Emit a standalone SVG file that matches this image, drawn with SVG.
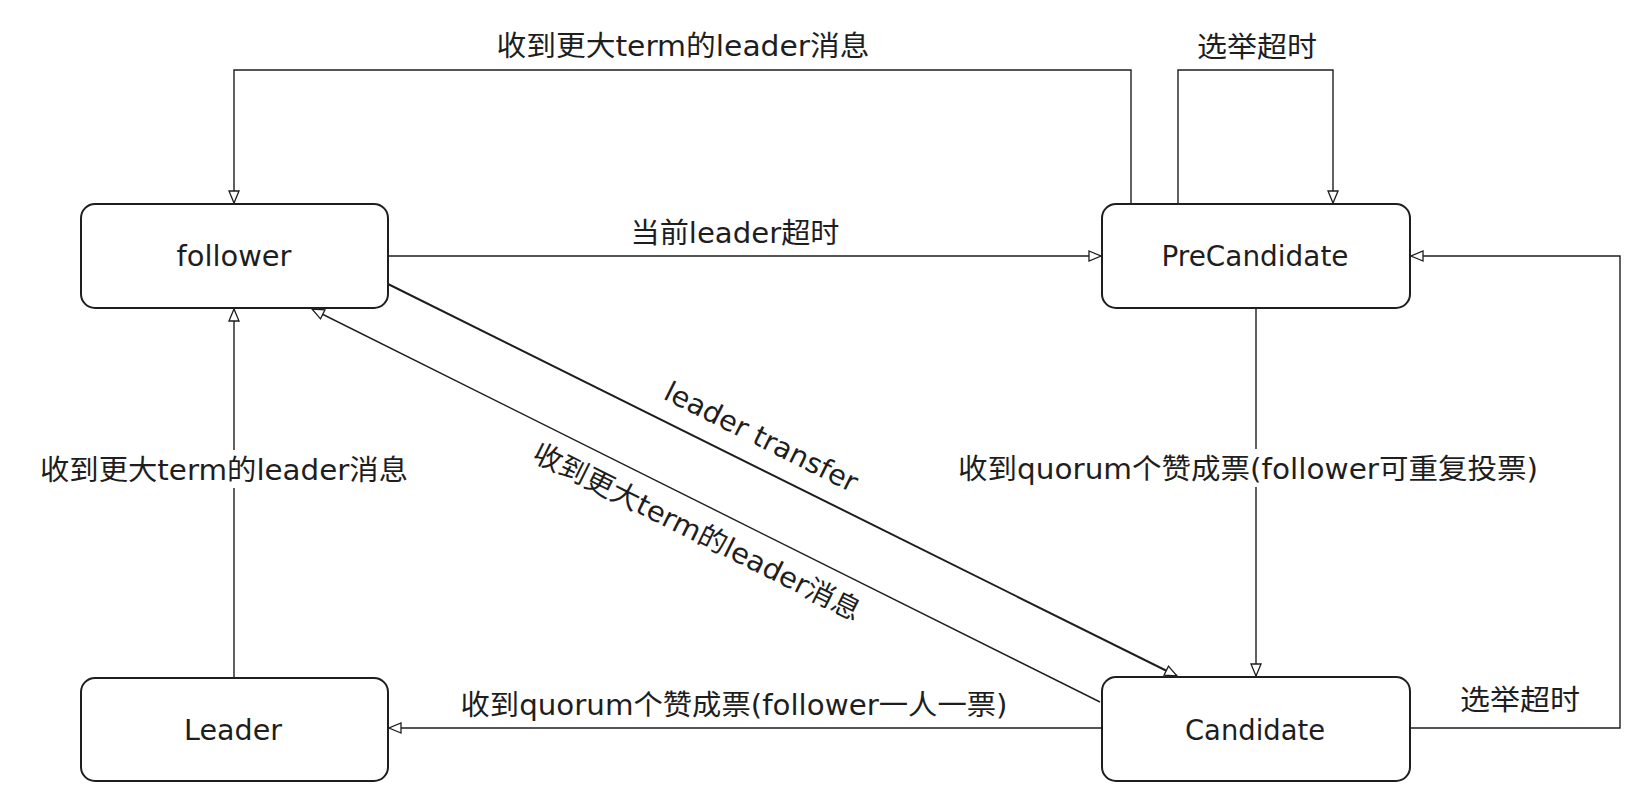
<svg xmlns="http://www.w3.org/2000/svg" width="1650" height="812" viewBox="0 0 1650 812">
<style>
.box{fill:#fff;stroke:#1e1e1e;stroke-width:2}
.t{font-family:"DejaVu Sans","Noto Sans CJK SC",sans-serif;font-size:28px;fill:#1e1e1e;text-anchor:middle;dominant-baseline:central}
.c{fill:none;stroke:#1e1e1e;stroke-width:1.4}
.bg{fill:#fff}
</style>
<defs>
<marker id="arr" markerUnits="userSpaceOnUse" markerWidth="16" markerHeight="14" refX="13" refY="6" orient="auto">
<path d="M1,1 L13,6 L1,11 Z" fill="#fff" stroke="#1e1e1e" stroke-width="1.3"/>
</marker>
</defs>
<rect width="1650" height="812" fill="#fff"/>
<g id="connectors">
<path class="c" d="M1131,204 V70 H234 V203" marker-end="url(#arr)"/>
<path class="c" d="M1178,204 V70 H1333 V203" marker-end="url(#arr)"/>
<path class="c" d="M388,256 H1101" marker-end="url(#arr)"/>
<path class="c" d="M1256,308 V676" marker-end="url(#arr)"/>
<path class="c" d="M1410,728 H1620 V256 H1411" marker-end="url(#arr)"/>
<path class="c" d="M1101,728 H389" marker-end="url(#arr)"/>
<path class="c" d="M234,678 V309" marker-end="url(#arr)"/>
<path class="c" style="stroke-width:2" d="M388,284 L1177,676" marker-end="url(#arr)"/>
<path class="c" d="M1100,702 L312,309" marker-end="url(#arr)"/>
<text class="t" x="683" y="46" textLength="373" lengthAdjust="spacingAndGlyphs">收到更大term的leader消息</text>
<text class="t" x="1257" y="47" textLength="120" lengthAdjust="spacingAndGlyphs">选举超时</text>
<text class="t" x="735" y="233" textLength="209" lengthAdjust="spacingAndGlyphs">当前leader超时</text>
<rect class="bg" x="36" y="450" width="376" height="38"/>
<text class="t" x="224" y="470" textLength="368" lengthAdjust="spacingAndGlyphs">收到更大term的leader消息</text>
<rect class="bg" x="954" y="449" width="588" height="38"/>
<text class="t" x="1248" y="469" textLength="580" lengthAdjust="spacingAndGlyphs">收到quorum个赞成票(follower可重复投票)</text>
<text class="t" x="734" y="705" textLength="547" lengthAdjust="spacingAndGlyphs">收到quorum个赞成票(follower一人一票)</text>
<text class="t" x="1520" y="700" textLength="120" lengthAdjust="spacingAndGlyphs">选举超时</text>
<text class="t" transform="translate(761,437) rotate(26.5)" x="0" y="0" textLength="212" lengthAdjust="spacingAndGlyphs">leader transfer</text>
<text class="t" transform="translate(697,532) rotate(26.5)" x="0" y="0" textLength="362" lengthAdjust="spacingAndGlyphs">收到更大term的leader消息</text>
</g>
<g id="follower">
<rect class="box" x="81" y="204" width="307" height="104" rx="14"/>
<text class="t" x="234" y="256" textLength="115" lengthAdjust="spacingAndGlyphs">follower</text>
</g>
<g id="precandidate">
<rect class="box" x="1102" y="204" width="308" height="104" rx="14"/>
<text class="t" x="1255" y="256" textLength="187" lengthAdjust="spacingAndGlyphs">PreCandidate</text>
</g>
<g id="leader">
<rect class="box" x="81" y="678" width="307" height="103" rx="14"/>
<text class="t" x="233" y="730" textLength="98" lengthAdjust="spacingAndGlyphs">Leader</text>
</g>
<g id="candidate">
<rect class="box" x="1102" y="677" width="308" height="104" rx="14"/>
<text class="t" x="1255" y="730" textLength="140" lengthAdjust="spacingAndGlyphs">Candidate</text>
</g>
</svg>
